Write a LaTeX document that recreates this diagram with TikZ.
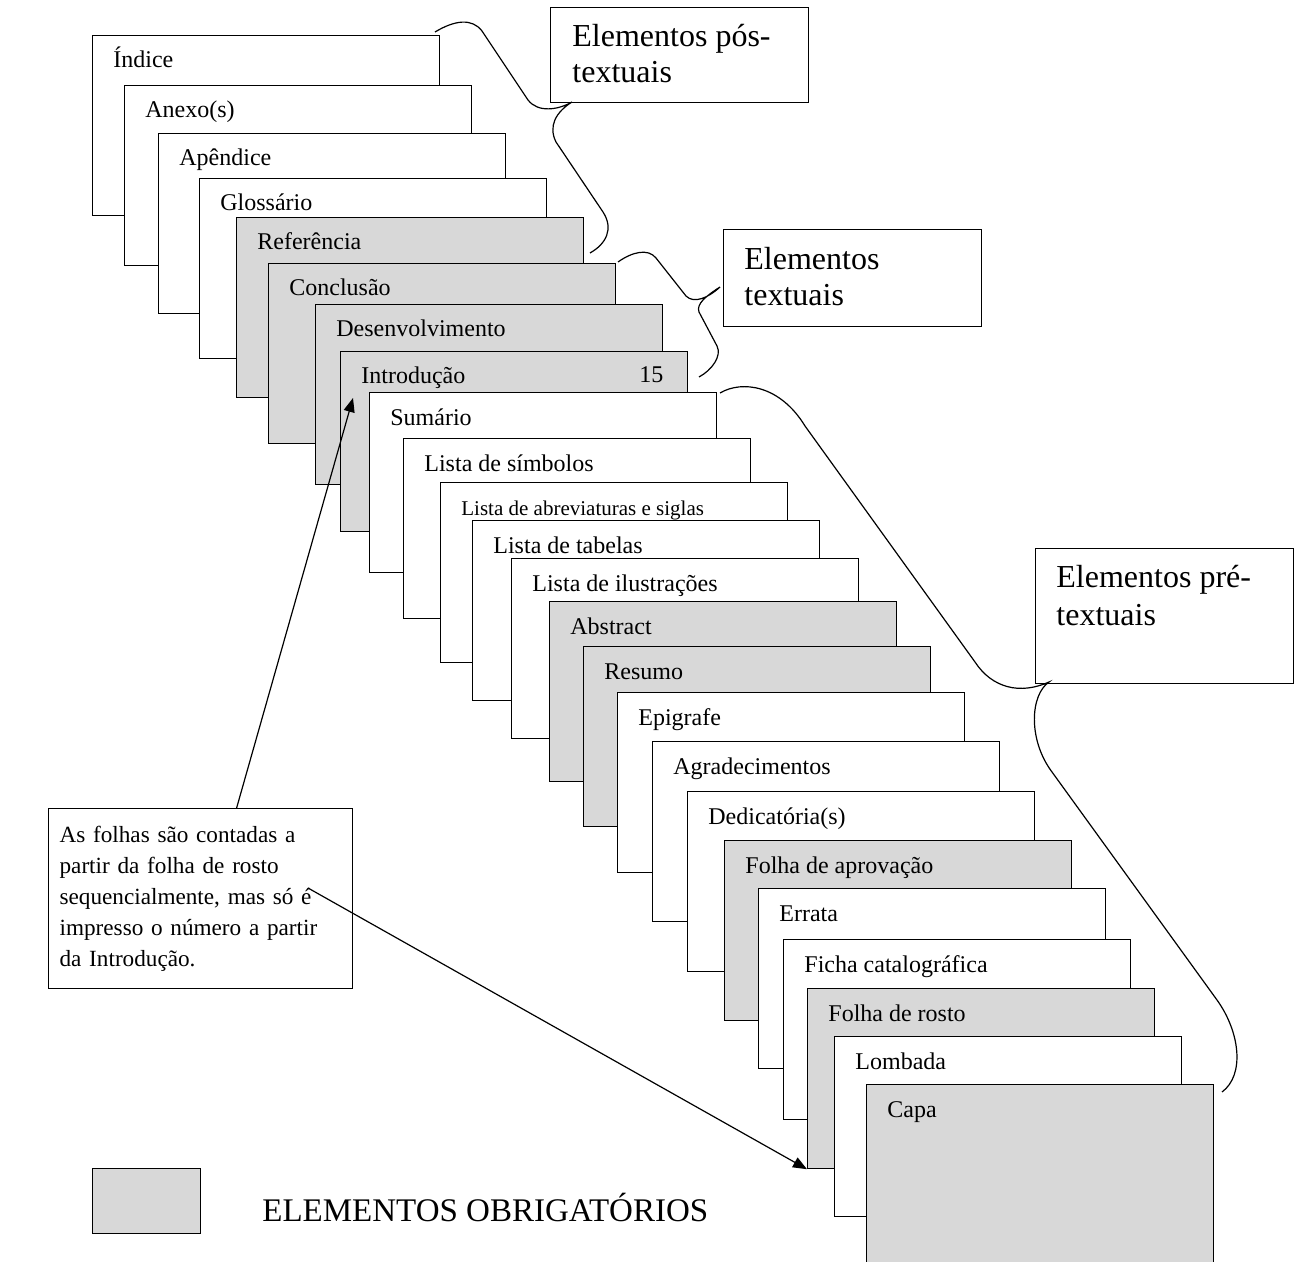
\documentclass[tikz,border=0pt]{standalone}
\usepackage{fontspec}
\setmainfont{Liberation Serif}
\usetikzlibrary{arrows.meta}
\definecolor{obrig}{RGB}{216,216,216}
\tikzset{
  folha/.style={draw, line width=0.6pt, anchor=north west, inner sep=0pt,
    minimum width=173.5pt, minimum height=90pt},
  rotulo/.style={anchor=base west, inner sep=0pt, font=\fontsize{12}{14}\selectfont},
  caixa/.style={draw, line width=0.6pt, anchor=north west, inner sep=0pt},
  titulo/.style={anchor=base west, inner sep=0pt, font=\fontsize{16}{19}\selectfont},
  chave/.style={line width=0.6pt},
  seta/.style={line width=0.6pt, -{Triangle[length=7pt,width=5.5pt]}}
}
\begin{document}
\begin{tikzpicture}[x=0.5pt, y=-0.5pt]
    \useasboundingbox (0,0) rectangle (1300,1262);

    % Folhas, da ultima para a primeira
    \foreach \px/\py/\pfill/\ptxt/\pname in {
        92/35/white/Índice/indice,
        124/85/white/Anexo(s)/anexo,
        158/133/white/Apêndice/apendice,
        199/178/white/Glossário/glossario,
        236/217/obrig/Referência/referencia,
        268/263/obrig/Conclusão/conclusao,
        315/304/obrig/Desenvolvimento/desenv,
        340/351/obrig/Introdução/intro,
        369/392/white/Sumário/sumario,
        403/438/white/Lista de símbolos/simbolos,
        440/482/white/{\fontsize{10.5}{12}\selectfont Lista de abreviaturas e siglas}/abrev,
        472/520/white/Lista de tabelas/tabelas,
        511/558/white/Lista de ilustrações/ilustr,
        549/601/obrig/Abstract/abstract,
        583/646/obrig/Resumo/resumo,
        617/692/white/Epigrafe/epigrafe,
        652/741/white/Agradecimentos/agrad,
        687/791/white/Dedicatória(s)/dedic,
        724/840/obrig/Folha de aprovação/aprov,
        758/888/white/Errata/errata,
        783/939/white/Ficha catalográfica/ficha,
        807/988/obrig/Folha de rosto/rosto,
        834/1036/white/Lombada/lombada,
        866/1084/obrig/Capa/capa}
    {
        \node[folha, fill=\pfill] (\pname) at (\px,\py) {};
        \node[rotulo] (\pname-t) at ([shift={(21,33)}]\pname.north west) {\ptxt};
    }
    \node[rotulo] (quinze) at ([shift={(299,32)}]intro.north west) {15};

    % Caixas de grupo
    \node[caixa, minimum width=129pt, minimum height=47.5pt] (pos) at (550,7) {};
    \node[titulo] (pos-a) at ([shift={(22,40)}]pos.north west) {Elementos pós-};
    \node[titulo] (pos-b) at ([shift={(22,76)}]pos.north west) {textuais};

    \node[caixa, minimum width=129pt, minimum height=48.5pt] (textuais) at (723,229) {};
    \node[titulo] (textuais-a) at ([shift={(21,41)}]textuais.north west) {Elementos};
    \node[titulo] (textuais-b) at ([shift={(21,77)}]textuais.north west) {textuais};

    \node[caixa, minimum width=129pt, minimum height=67.5pt] (pre) at (1035,548) {};
    \node[titulo] (pre-a) at ([shift={(21,39)}]pre.north west) {Elementos pré-};
    \node[titulo] (pre-b) at ([shift={(21,77)}]pre.north west) {textuais};

    % Chaves
    \draw[chave] (435,32) .. controls (455,20) and (472,18) .. (482,31) -- (528,100)
        .. controls (538,113) and (558,110) .. (572,102)
        .. controls (556,112) and (548,126) .. (556,142) -- (603,212)
        .. controls (614,229) and (606,244) .. (590,253);
    \draw[chave] (618,262) .. controls (632,252) and (648,248) .. (656,258) -- (686,296)
        .. controls (694,304) and (708,298) .. (720,287)
        .. controls (706,296) and (696,304) .. (699,312) -- (717,346)
        .. controls (722,356) and (712,370) .. (699,377);
    \draw[chave] (720,393) .. controls (742,380) and (780,385) .. (805,426) -- (975,662)
        .. controls (992,688) and (1020,695) .. (1049,682)
        .. controls (1030,695) and (1028,740) .. (1052,772) -- (1217,1000)
        .. controls (1240,1032) and (1245,1075) .. (1222,1092);

    % Nota
    \node[caixa, text width=141pt, minimum height=90pt, inner xsep=5.5pt, align=left,
        font=\fontsize{11.6}{15.5}\selectfont] (nota) at (48,808)
        {As folhas são contadas a\\ partir da folha de rosto\\ sequencialmente, mas só é\\
         impresso o número a partir\\ da Introdução.};
    \coordinate (introseta) at (353,398);
    \coordinate (notaseta) at (308,888);
    \draw[seta] ([xshift=18pt]nota.north) -- (introseta);
    \draw[seta] (notaseta) -- (rosto.south west);

    % Legenda
    \node[caixa, fill=obrig, minimum width=54pt, minimum height=32.5pt] (legenda) at (92,1168) {};
    \node[titulo, font=\fontsize{16.5}{19}\selectfont] (legenda-t) at (262,1221) {ELEMENTOS OBRIGATÓRIOS};
\end{tikzpicture}
\end{document}
